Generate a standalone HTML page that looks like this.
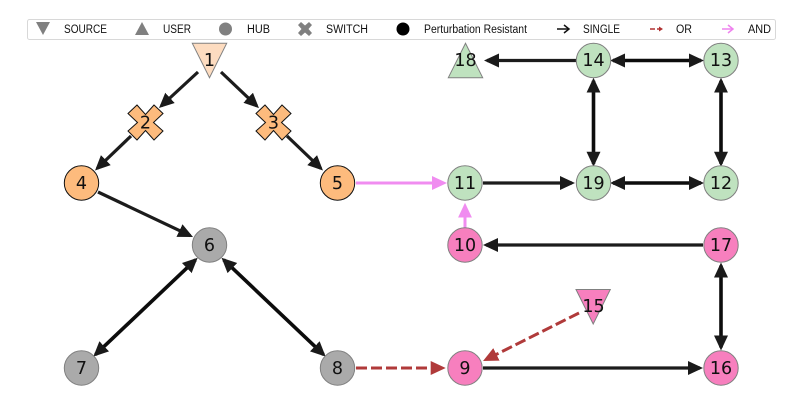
<!DOCTYPE html>
<html><head><meta charset="utf-8"><style>
html,body{margin:0;padding:0;background:#fff;width:797px;height:402px;overflow:hidden}
svg{display:block}
.n{font:17.5px "DejaVu Sans",sans-serif;fill:#111;text-anchor:middle}
.l{font:11.5px "Liberation Sans",sans-serif;fill:#111}
.e{fill:none;stroke:#1c1c1c;stroke-width:3.200}
.b{fill:none;stroke:#0c0c0c;stroke-width:3.600}
</style></head><body>
<svg width="797" height="402" viewBox="0 0 797 402" xmlns="http://www.w3.org/2000/svg">
<defs>
<marker id="k" markerUnits="userSpaceOnUse" markerWidth="18" markerHeight="16" refX="12" refY="8" orient="auto-start-reverse"><path d="M0 1L15 8L0 15Z" fill="#1a1a1a"/></marker>
<marker id="m" markerUnits="userSpaceOnUse" markerWidth="18" markerHeight="16" refX="12" refY="8" orient="auto-start-reverse"><path d="M0 1L15 8L0 15Z" fill="#f08cf0"/></marker>
<marker id="r" markerUnits="userSpaceOnUse" markerWidth="18" markerHeight="16" refX="12" refY="8" orient="auto-start-reverse"><path d="M0 1L15 8L0 15Z" fill="#b03a3a"/></marker>
</defs>

<!-- legend -->
<rect x="27.500" y="19.500" width="748" height="20" rx="2" fill="#fff" stroke="#d8d8d8"/>
<path d="M36 22H50L43 35Z" fill="#808080"/>
<path d="M135 35H149L142 22Z" fill="#808080"/>
<circle cx="225.500" cy="29" r="6.500" fill="#808080"/>
<path d="M298 25L301 22L305 25.500L309 22L312 25L308.500 29L312 33L309 36L305 32.500L301 36L298 33L301.500 29Z" fill="#808080"/>
<circle cx="403" cy="29" r="6.500" fill="#000"/>
<text class="l" x="64" y="33" textLength="43" lengthAdjust="spacingAndGlyphs">SOURCE</text>
<text class="l" x="163" y="33" textLength="28" lengthAdjust="spacingAndGlyphs">USER</text>
<text class="l" x="247" y="33" textLength="23" lengthAdjust="spacingAndGlyphs">HUB</text>
<text class="l" x="326" y="33" textLength="42" lengthAdjust="spacingAndGlyphs">SWITCH</text>
<text class="l" x="424" y="33" textLength="103" lengthAdjust="spacingAndGlyphs">Perturbation Resistant</text>
<text class="l" x="583" y="33" textLength="37" lengthAdjust="spacingAndGlyphs">SINGLE</text>
<text class="l" x="676" y="33" textLength="16" lengthAdjust="spacingAndGlyphs">OR</text>
<text class="l" x="748" y="33" textLength="23" lengthAdjust="spacingAndGlyphs">AND</text>
<path d="M557 29H568" stroke="#111" stroke-width="1.500"/><path d="M564 25L569 29L564 33" fill="none" stroke="#111" stroke-width="1.500"/>
<path d="M650 29H655M657 29H660" stroke="#b03030" stroke-width="1.500"/><path d="M659 26.500L663 29L659 31.500Z" fill="#b03030"/>
<path d="M722 29H732" stroke="#ee82ee" stroke-width="1.500"/><path d="M728 25L733 29L728 33" fill="none" stroke="#ee82ee" stroke-width="1.500"/>

<!-- edges -->
<path d="M198 72L161.200 106" class="e" marker-end="url(#k)"/>
<path d="M221 72L256.800 106" class="e" marker-end="url(#k)"/>
<path d="M131 136L97.200 168.400" class="e" marker-end="url(#k)"/>
<path d="M287 136L320.800 168.400" class="e" marker-end="url(#k)"/>
<path d="M98 192L190.300 235.700" class="e" marker-end="url(#k)"/>
<path d="M483 183H572" class="e" marker-end="url(#k)"/>
<path d="M576 60.500H487" class="e" marker-end="url(#k)"/>
<path d="M703 245H486" class="e" marker-end="url(#k)"/>
<path d="M483 368H700" class="e" marker-end="url(#k)"/>
<path d="M593.500 80.700V163.700" class="b" marker-start="url(#k)" marker-end="url(#k)"/>
<path d="M721 80.700V163.700" class="b" marker-start="url(#k)" marker-end="url(#k)"/>
<path d="M613 60.500H701" class="b" marker-start="url(#k)" marker-end="url(#k)"/>
<path d="M613 183H701" class="b" marker-start="url(#k)" marker-end="url(#k)"/>
<path d="M195.500 259.800L95.500 354.600" class="b" marker-start="url(#k)" marker-end="url(#k)"/>
<path d="M223.700 259.800L323.500 354.600" class="b" marker-start="url(#k)" marker-end="url(#k)"/>
<path d="M721 265.500V347.500" class="b" marker-start="url(#k)" marker-end="url(#k)"/>
<path d="M356 183H444" fill="none" stroke="#f08cf0" stroke-width="3" marker-end="url(#m)"/>
<path d="M465 228V205.700" fill="none" stroke="#f08cf0" stroke-width="3" marker-end="url(#m)"/>
<path d="M356 368H442.700" fill="none" stroke="#b03a3a" stroke-width="3" stroke-dasharray="11 4" marker-end="url(#r)"/>
<path d="M579 313L485.700 359.700" fill="none" stroke="#b03a3a" stroke-width="3" stroke-dasharray="11 4" marker-end="url(#r)"/>

<!-- nodes -->
<g stroke="#808080" stroke-width="1">
<path d="M192.300 43.300H226.700L209.500 77.700Z" fill="#fddcc0"/>
<path d="M448.300 77.700H482.700L465.500 43.300Z" fill="#bfe2bf"/>
<path d="M576 289.500H610.300L593.200 324Z" fill="#f77fbe"/>
<g fill="#bfe2bf">
<circle cx="465" cy="183" r="17.200"/><circle cx="593.500" cy="183" r="17.200"/><circle cx="721" cy="183" r="17.200"/>
<circle cx="593.500" cy="60.500" r="17.200"/><circle cx="721" cy="60.500" r="17.200"/>
</g>
<g fill="#f77fbe">
<circle cx="465" cy="245" r="17.200"/><circle cx="465" cy="368" r="17.200"/><circle cx="721" cy="245" r="17.200"/><circle cx="721" cy="368" r="17.200"/>
</g>
<g fill="#aaaaaa">
<circle cx="209.500" cy="245" r="17.200"/><circle cx="81.500" cy="368" r="17.200"/><circle cx="337.500" cy="368" r="17.200"/>
</g>
</g>
<g stroke="#111" stroke-width="1" fill="#fdbb7d">
<circle cx="81.500" cy="183" r="17.200"/><circle cx="337.500" cy="183" r="17.200"/>
<path d="M128 113.500L137 105L145.500 114.500L154 105L163 113.500L153.500 122.500L163 131L154 140L145.500 130.500L137 140L128 131L137.500 122.500Z"/>
<path d="M256 113.500L265 105L273.500 114.500L282 105L291 113.500L281.500 122.500L291 131L282 140L273.500 130.500L265 140L256 131L265.500 122.500Z"/>
</g>

<text class="n" x="209.500" y="66">1</text>
<text class="n" x="145.500" y="128.500">2</text>
<text class="n" x="273.500" y="128.500">3</text>
<text class="n" x="81.500" y="189">4</text>
<text class="n" x="337.500" y="189">5</text>
<text class="n" x="209.500" y="251">6</text>
<text class="n" x="81.500" y="374">7</text>
<text class="n" x="337.500" y="374">8</text>
<text class="n" x="465" y="374">9</text>
<text class="n" x="465" y="251">10</text>
<text class="n" x="465" y="189">11</text>
<text class="n" x="721" y="189">12</text>
<text class="n" x="721" y="66">13</text>
<text class="n" x="593.500" y="66">14</text>
<text class="n" x="593.500" y="312">15</text>
<text class="n" x="721" y="374">16</text>
<text class="n" x="721" y="251">17</text>
<text class="n" x="465.500" y="66">18</text>
<text class="n" x="593.500" y="189">19</text>
</svg>
</body></html>
